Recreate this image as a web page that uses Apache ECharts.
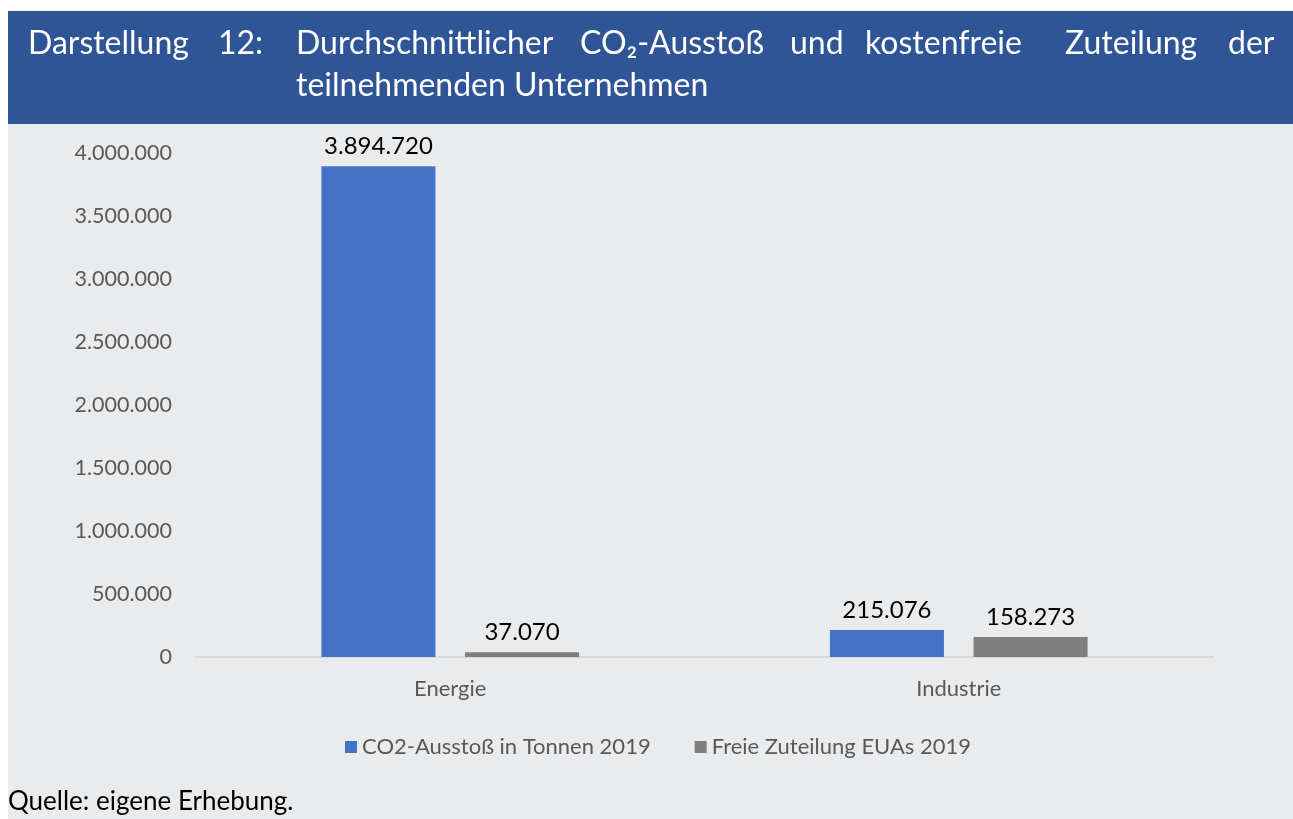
<!DOCTYPE html>
<html>
<head>
<meta charset="utf-8">
<title>Darstellung 12</title>
<script src="https://cdn.jsdelivr.net/npm/echarts@6/dist/echarts.min.js"></script>
<style>
  html, body { margin: 0; padding: 0; background: #fff; }
  #chart { width: 1293px; height: 819px; }
</style>
</head>
<body>
<div id="chart"></div>
<script>
// Daten
var categories = ['Energie', 'Industrie'];
var seriesNames = ['CO2-Ausstoß in Tonnen 2019', 'Freie Zuteilung EUAs 2019'];
var co2Values = [3894720, 215076];
var freeValues = [37070, 158273];
var yTicks = [0, 500000, 1000000, 1500000, 2000000, 2500000, 3000000, 3500000, 4000000];

// Titel, Wort für Wort (Blocksatz wie im Original)
var titleLine1 = ['Darstellung', '12:', 'Durchschnittlicher', 'CO₂-Ausstoß', 'und', 'kostenfreie', 'Zuteilung', 'der'];
var titleLine1X = [28, 218, 296, 580, 790, 865, 1065, 1228];
var titleLine2 = 'teilnehmenden Unternehmen';

var fontName = 'Lato, "Open Sans", sans-serif';

//Zahlen mit Punkt als Tausendertrennzeichen
function fmtDe(v) {
    return String(Math.round(v)).replace(/\B(?=(\d{3})+(?!\d))/g, '.');
}

var chartDom = document.getElementById('chart');
var myChart = echarts.init(chartDom, null, { renderer: 'canvas' });

var graphics = [
    {
        type: 'rect',
        shape: { x: 8, y: 124, width: 1285, height: 695 },
        style: { fill: '#EAEBED' },
        z: -10
    },
    {
        type: 'rect',
        shape: { x: 8, y: 11, width: 1285, height: 113 },
        style: { fill: '#2F5597' },
        z: -10
    }
];
for (var i = 0; i < titleLine1.length; i++) {
    graphics.push({
        type: 'text',
        x: titleLine1X[i],
        y: 44,
        style: {
            text: titleLine1[i],
            fill: '#fff',
            font: '32px ' + fontName,
            textVerticalAlign: 'middle'
        }
    });
}
graphics.push({
    type: 'text',
    x: 296,
    y: 86,
    style: {
        text: titleLine2,
        fill: '#fff',
        font: '32px ' + fontName,
        textVerticalAlign: 'middle'
    }
});
graphics.push({
    type: 'text',
    x: 8,
    y: 802,
    style: {
        text: 'Quelle: eigene Erhebung.',
        fill: '#000',
        font: '26px ' + fontName,
        textVerticalAlign: 'middle'
    }
});

var option = {
    backgroundColor: '#fff',
    animation: false,
    textStyle: { fontFamily: fontName },
    graphic: graphics,
    grid: {
        left: 196,
        right: 80,
        top: 153,
        bottom: 162,
        containLabel: false
    },
    legend: {
        data: seriesNames,
        left: 340,
        top: 731,
        icon: 'rect',
        itemWidth: 12,
        itemHeight: 12,
        itemGap: 44,
        textStyle: {
            fontSize: 22,
            color: '#595959',
            fontFamily: fontName
        }
    },
    xAxis: {
        type: 'category',
        data: categories,
        axisLine: { show: true, lineStyle: { color: '#D9D9D9', width: 2 } },
        axisTick: { show: false },
        axisLabel: {
            fontSize: 22,
            color: '#595959',
            margin: 21
        }
    },
    yAxis: {
        type: 'value',
        min: yTicks[0],
        max: yTicks[yTicks.length - 1],
        interval: yTicks[1] - yTicks[0],
        axisLine: { show: false },
        axisTick: { show: false },
        splitLine: { show: false },
        axisLabel: {
            fontSize: 21.5,
            color: '#595959',
            margin: 24,
            formatter: function (v) { return fmtDe(v); }
        }
    },
    series: [
        {
            name: seriesNames[0],
            type: 'bar',
            data: co2Values,
            barWidth: 114,
            barGap: '26%',
            itemStyle: { color: '#4472C4' },
            label: {
                show: true,
                position: 'top',
                distance: 8,
                fontSize: 24,
                color: '#000',
                formatter: function (p) { return fmtDe(p.value); }
            }
        },
        {
            name: seriesNames[1],
            type: 'bar',
            data: freeValues,
            barWidth: 114,
            itemStyle: { color: '#7F7F7F' },
            label: {
                show: true,
                position: 'top',
                distance: 8,
                fontSize: 24,
                color: '#000',
                formatter: function (p) { return fmtDe(p.value); }
            }
        }
    ]
};

myChart.setOption(option);
</script>
</body>
</html>
